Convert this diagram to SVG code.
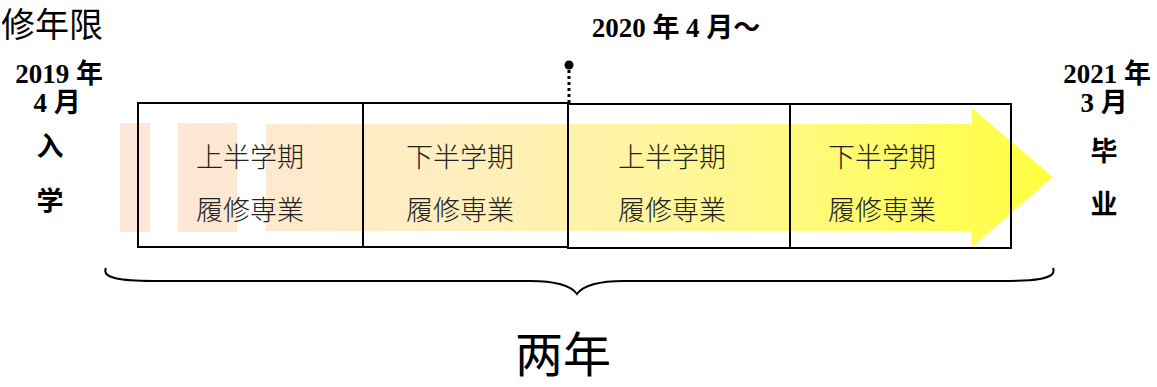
<svg xmlns="http://www.w3.org/2000/svg" width="1157" height="387" viewBox="0 0 1157 387">
<style>
.lbl{font-family:"Liberation Serif","Noto Sans CJK SC",serif;font-weight:bold;font-size:27px;fill:#000}
.cell{font-family:"Noto Sans CJK JP",sans-serif;font-size:27px;fill:#222;font-weight:300}
.box{fill:none;stroke:#000;stroke-width:2}
</style>
<defs>
<linearGradient id="g" x1="120" y1="0" x2="1053" y2="0" gradientUnits="userSpaceOnUse">
<stop offset="0" stop-color="#fde5da"/>
<stop offset="0.35" stop-color="#ffeec0"/>
<stop offset="0.6" stop-color="#fff69a"/>
<stop offset="1" stop-color="#ffff40"/>
</linearGradient>
</defs>
<g id="arrow">
<rect x="120" y="123" width="30" height="109" fill="url(#g)"/>
<rect x="178" y="123" width="59" height="109" fill="url(#g)"/>
<path d="M266 124 H972 V108 L1053 177 L972 247 V231 H266 Z" fill="url(#g)"/>
</g>
<g id="boxes">
<rect class="box" x="138" y="103" width="225" height="144"/>
<rect class="box" x="363" y="103" width="205" height="144"/>
<rect class="box" x="568" y="104" width="222" height="144"/>
<rect class="box" x="790" y="104" width="221" height="144"/>
</g>
<g id="cell1"><text class="cell" x="250" y="167" text-anchor="middle">上半学期</text><text class="cell" x="250" y="220" text-anchor="middle">履修専業</text></g>
<g id="cell2"><text class="cell" x="460" y="167" text-anchor="middle">下半学期</text><text class="cell" x="460" y="220" text-anchor="middle">履修専業</text></g>
<g id="cell3"><text class="cell" x="672" y="167" text-anchor="middle">上半学期</text><text class="cell" x="672" y="220" text-anchor="middle">履修専業</text></g>
<g id="cell4"><text class="cell" x="882" y="167" text-anchor="middle">下半学期</text><text class="cell" x="882" y="220" text-anchor="middle">履修専業</text></g>
<g id="connectors">
<circle cx="569" cy="65" r="4.5" fill="#000"/>
<line x1="569" y1="70" x2="569" y2="103" stroke="#000" stroke-width="3" stroke-dasharray="3,3"/>
<path d="M106 268 C100 280 130 281 160 281 L530 281 C560 281 572 287 577 294 C582 287 594 281 624 281 L1000 281 C1030 281 1058 280 1053 268" fill="none" stroke="#000" stroke-width="2"/>
</g>
<g id="title"><text x="1" y="37" font-family="Noto Sans CJK SC,sans-serif" font-size="34" fill="#000">修年限</text></g>
<g id="start">
<text class="lbl" x="59" y="83" text-anchor="middle">2019 年</text>
<text class="lbl" x="57" y="112" text-anchor="middle">4 月</text>
<text class="lbl" x="50" y="156" text-anchor="middle">入</text>
<text class="lbl" x="50" y="211" text-anchor="middle">学</text>
</g>
<g id="mid"><text class="lbl" x="676" y="37" text-anchor="middle">2020 年 4 月～</text></g>
<g id="end">
<text class="lbl" x="1107" y="83" text-anchor="middle">2021 年</text>
<text class="lbl" x="1104" y="112" text-anchor="middle">3 月</text>
<text class="lbl" x="1104" y="161" text-anchor="middle">毕</text>
<text class="lbl" x="1104" y="214" text-anchor="middle">业</text>
</g>
<g id="total"><text x="563" y="372" text-anchor="middle" font-family="Noto Sans CJK SC,sans-serif" font-size="48" fill="#000">两年</text></g>
</svg>
